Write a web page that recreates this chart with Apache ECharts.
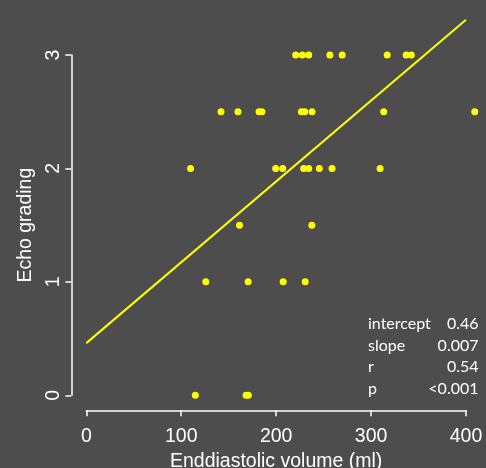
<!DOCTYPE html>
<html>
<head>
<meta charset="utf-8">
<script src="https://cdn.jsdelivr.net/npm/echarts@6/dist/echarts.min.js"></script>
<style>
html,body{margin:0;padding:0;background:#4d4d4d;}
#c{width:486px;height:468px;}
</style>
</head>
<body>
<div id="c"></div>
<script>
// Data
const volumes = [220.6,227.6,234.3,256.6,269.6,317,337,342.4,
                 141.9,159.8,182,185,226.6,230.1,237.8,313.3,409.2,
                 109.8,199.5,206.9,229,234.3,245.5,258.9,309.5,
                 161.4,237.6,
                 125.9,170.5,207.4,230.6,
                 114.9,168.3,170.7];
const grades  = [3,3,3,3,3,3,3,3,
                 2.5,2.5,2.5,2.5,2.5,2.5,2.5,2.5,2.5,
                 2,2,2,2,2,2,2,2,
                 1.5,1.5,
                 1,1,1,1,
                 0,0,0];
const fitX = [0, 400];
const fitY = [0.46, 3.31];
const xTicks = [0, 100, 200, 300, 400];
const yTicks = [0, 1, 2, 3];
const statNames = ['intercept', 'slope', 'r', 'p'];
const statValues = ['0.46', '0.007', '0.54', '<0.001'];

const pts = volumes.map((v, i) => [v, grades[i]]);
const fit = fitX.map((v, i) => [v, fitY[i]]);

const chart = echarts.init(document.getElementById('c'), null, {renderer: 'canvas'});
const axisFont = 'Liberation Sans, Arial, sans-serif';
const rowY = [326, 347.7, 369.3, 391];
const graphics = [];
statNames.forEach((n, i) => {
  graphics.push({type: 'text', left: 368, top: rowY[i] - 10,
    style: {text: n, fill: '#ffffff', font: '16px Lato, "Open Sans", sans-serif', textVerticalAlign: 'top'}});
  graphics.push({type: 'text', right: 486 - 478.5, top: rowY[i] - 10,
    style: {text: statValues[i], fill: '#ffffff', font: '16px Lato, "Open Sans", sans-serif', textAlign: 'right', textVerticalAlign: 'top'}});
});

chart.setOption({
  backgroundColor: '#4d4d4d',
  animation: false,
  grid: {left: 86.3, width: 379.7, top: 55, height: 340.3, containLabel: false, outerBoundsMode: 'none'},
  xAxis: {
    type: 'value', min: xTicks[0], max: xTicks[xTicks.length - 1], interval: 100,
    offset: 15,
    axisLine: {show: true, onZero: false, lineStyle: {color: '#ffffff', width: 1.5}},
    axisTick: {show: true, inside: false, length: 6, lineStyle: {color: '#ffffff', width: 1.5}},
    splitLine: {show: false},
    axisLabel: {color: '#ffffff', fontSize: 19.5, fontFamily: axisFont, margin: 16},
    name: 'Enddiastolic volume (ml)', nameLocation: 'middle', nameGap: 37,
    nameTextStyle: {color: '#ffffff', fontSize: 19.5, fontFamily: axisFont}
  },
  yAxis: {
    type: 'value', min: yTicks[0], max: yTicks[yTicks.length - 1], interval: 1,
    offset: 15,
    axisLine: {show: true, onZero: false, lineStyle: {color: '#ffffff', width: 1.5}},
    axisTick: {show: true, inside: false, length: 6, lineStyle: {color: '#ffffff', width: 1.5}},
    splitLine: {show: false},
    axisLabel: {color: '#ffffff', fontSize: 19.5, fontFamily: axisFont, rotate: 90, margin: 8},
    name: 'Echo grading', nameLocation: 'middle', nameGap: 34, nameRotate: 90,
    nameTextStyle: {color: '#ffffff', fontSize: 19.5, fontFamily: axisFont}
  },
  graphic: graphics,
  series: [
    {type: 'line', data: fit, symbol: 'none', clip: false,
     lineStyle: {color: '#ffff00', width: 2}, z: 2},
    {type: 'scatter', data: pts, symbol: 'circle', symbolSize: 7, clip: false,
     itemStyle: {color: '#ffff00', opacity: 1}, z: 3}
  ]
});
</script>
</body>
</html>
